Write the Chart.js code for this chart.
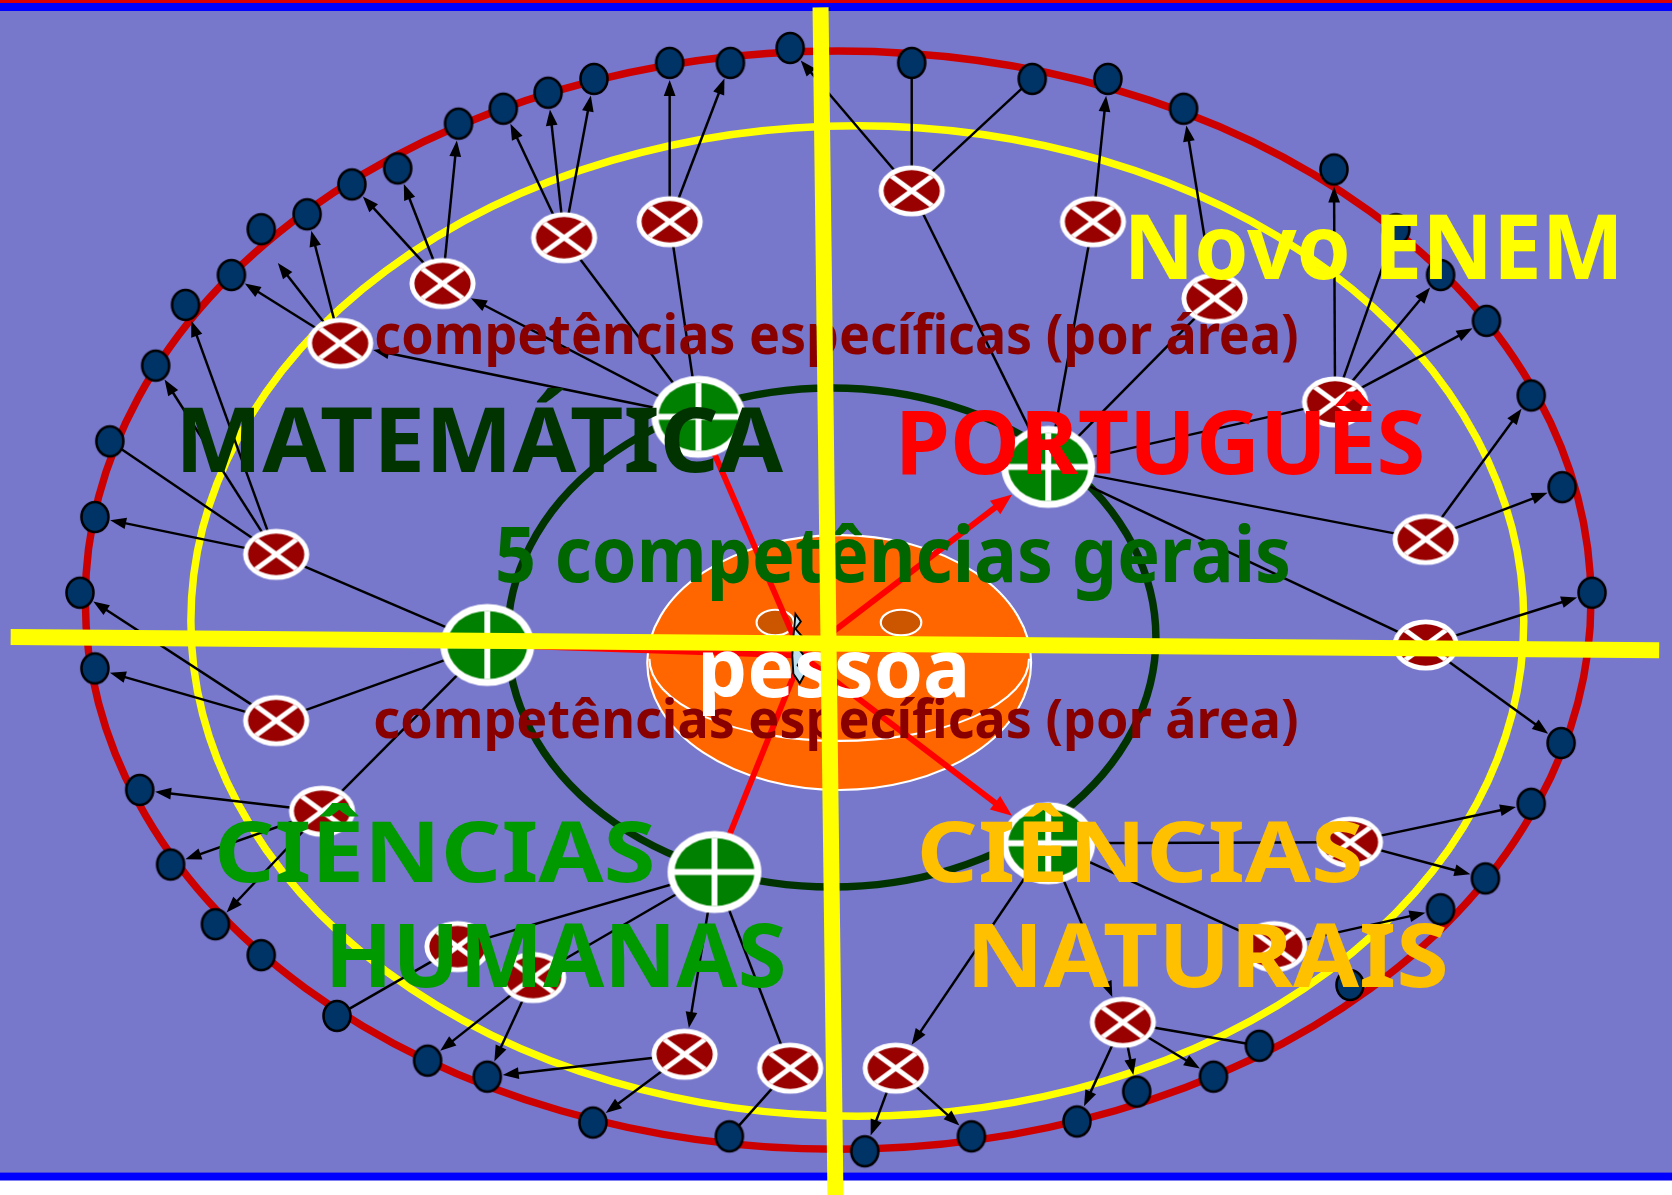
<!DOCTYPE html>
<html><head><meta charset="utf-8">
<script src="https://cdn.jsdelivr.net/npm/chart.js@4.4.1/dist/chart.umd.min.js"></script>
<style>html,body{margin:0;padding:0;background:#fff;overflow:hidden}#c{display:block}</style>
</head><body>
<canvas id="c" width="1672" height="1195"></canvas>
<script>
// ================= DATA (diagram units: 0..1568 x 0..1121) =================
// outer ring nodes (dark blue)
const blueNodeX = [741,685,628,557,514,472,430,373,330,288,245,217,174,146,103,89,75,89,131,160,202,245,316,401,457,556,684,811,911,1010,1066,1138,1181,1266,1351,1393,1436,1464,1493,1465,1436,1394,1351,1309,1251,1110,1039,968,855];
const blueNodeY = [45,59,59,74,87,102,116,158,173,201,215,258,286,343,414,485,556,627,741,811,867,896,953,995,1010,1053,1066,1080,1066,1052,1024,1010,981,924,853,824,754,697,556,457,371,301,258,215,159,102,74,74,59];
// specific-skill nodes (red, crossed)
const skillNodeX = [529,628,415,319,855,1025,1139,1252,259,259,302,1337,1337,1266,1195,1053,840,741,642,500,429];
const skillNodeY = [223,208,266,322,179,208,280,377,520,676,761,506,605,790,888,959,1002,1002,989,917,888];
// general-competence nodes (green): Matemática, Português, left, C. Humanas, C. Naturais
const areaNodeX = [655,983,457,670,983];
const areaNodeY = [391,438,605,818,791];
// centre ("pessoa")
const hubX = 752, hubY = 615;
// free arrow end
const looseEndX = [260];
const looseEndY = [246];
// links: from, to, arrow head (1) or not (0)
const linkFrom = ['g0','g0','g0','g0','x1','x1','x1','x2','x2','x3','x3','x3','x4','x4','x4',
  'g2','x9','x9','x9','x9','g2','x10','x10','g2','x11','x11','x11',
  'g3','x21','g3','x20','x20','g3','x19','x19','g3','x18',
  'g4','x14','x14','g4','x15','g4','x16','x16','x16','x16','g4','x17','x17',
  'g1','x5','x5','x5','g1','x6','g1','x7','g1','x8','x8','x8','x8','g1','x12','x12','g1','x13','x13'];
const linkTo = ['x1','x2','x3','x4','b5','b4','b6','b3','b2','b7','b8','b9','b10','l0','b12',
  'x9','b13','b14','b15','b16','x10','b17','b18','x11','b19','b20','b21',
  'x21','b23','x20','b24','b25','x19','b25','b26','x18','b27',
  'x14','b37','b36','x15','b35','x16','b33','b32','b31','b30','x17','b28','b29',
  'x5','b1','b49','b48','x6','b47','x7','b46','x8','b45','b44','b43','b42','x12','b41','b40','x13','b39','b38'];
const linkArrow = [0,0,1,1,1,1,1,1,1,1,1,1,1,1,1,
  0,1,1,0,1,0,1,1,0,1,1,1,
  0,0,0,1,1,1,1,1,0,0,
  0,1,1,0,1,1,0,1,1,1,1,1,1,
  0,1,0,0,0,1,0,1,0,1,0,1,1,0,1,1,0,1,1];
// red links centre -> area nodes
const hubArrow = [0,1,0,0,1];
// texts
const labelTexts = ['competências específicas (por área)','competências específicas (por área)','5 competências gerais',
  'MATEMÁTICA','PORTUGUÊS','pessoa','CIÊNCIAS','HUMANAS','CIÊNCIAS','NATURAIS','Novo ENEM'];

// ================= LAYOUT / STYLE =================
const W = 1568, H = 1121;
const K = 1672 / W;
const labelColors = ['#880000','#880000','#006600','#003300','#ff0000','#ffffff','#009900','#009900','#ffc000','#ffc000','#ffff00'];
// [left, right, top of reference glyph, baseline, reference glyph]
const labelBoxes = [
  [353,1216,303,332,'x'],
  [352,1216,664,692,'x'],
  [467,1208,494,546,'5'],
  [172,735,383,443,'M'],
  [846,1334,386,445,'P'],
  [659,905,612,653.5,'x'],
  [205,612,770,827,'H'],
  [312,735,867,926,'H'],
  [864,1276,770,827,'H'],
  [914,1356,867,926,'N'],
  [1061,1516,201,262,'N']
];
const rings = {
  outer: {cx:786, cy:563, rx:706, ry:515, color:'#cc0000', w:7},
  yellow:{cx:804, cy:582.5, rx:625, ry:464.5, color:'#ffff00', w:7},
  green: {cx:780, cy:598, rx:304, ry:234, color:'#003300', w:7}
};
const face = {cx:787, cy:621.5, rx:180, ry:119.5};
const nodeSize = {b:[13.6,15], x:[31,24], g:[44,38.5], l:[0.01,0.01]};

function px(v){ return v*K; }
function makeNode(kind){
  const [rx, ry] = nodeSize[kind].map(px);
  const c = document.createElement('canvas');
  c.width = Math.ceil(rx*2+6); c.height = Math.ceil(ry*2+6);
  const g = c.getContext('2d');
  const cx = c.width/2, cy = c.height/2;
  if (kind === 'b') {
    g.beginPath(); g.ellipse(cx,cy,rx-1,ry-1,0,0,Math.PI*2);
    g.fillStyle = '#003366'; g.fill();
    g.lineWidth = px(2.4); g.strokeStyle = '#000'; g.stroke();
  } else if (kind === 'x') {
    g.beginPath(); g.ellipse(cx,cy,rx,ry,0,0,Math.PI*2); g.fillStyle='#fff'; g.fill();
    const b = px(4.6), irx = rx-b, iry = ry-b;
    g.beginPath(); g.ellipse(cx,cy,irx,iry,0,0,Math.PI*2); g.fillStyle='#990000'; g.fill();
    g.save(); g.beginPath(); g.ellipse(cx,cy,irx,iry,0,0,Math.PI*2); g.clip();
    g.strokeStyle='#fff'; g.lineWidth=px(4.6);
    const a = 0.74;
    g.beginPath(); g.moveTo(cx-irx*a, cy-iry*a); g.lineTo(cx+irx*a, cy+iry*a);
    g.moveTo(cx+irx*a, cy-iry*a); g.lineTo(cx-irx*a, cy+iry*a); g.stroke();
    g.restore();
  } else {
    g.beginPath(); g.ellipse(cx,cy,rx,ry,0,0,Math.PI*2); g.fillStyle='#fff'; g.fill();
    const b = px(6.5), irx = rx-b, iry = ry-b;
    g.beginPath(); g.ellipse(cx,cy,irx,iry,0,0,Math.PI*2); g.fillStyle='#008000'; g.fill();
    g.strokeStyle='#fff'; g.lineWidth=px(5.5);
    g.beginPath(); g.moveTo(cx-irx,cy); g.lineTo(cx+irx,cy); g.moveTo(cx,cy-iry); g.lineTo(cx,cy+iry); g.stroke();
  }
  return c;
}
const imgBlue = makeNode('b'), imgSkill = makeNode('x'), imgArea = makeNode('g');

function nodeInfo(id){
  const t = id[0], n = parseInt(id.slice(1),10);
  if (t === 'b') return {x:blueNodeX[n-1], y:blueNodeY[n-1], s:nodeSize.b};
  if (t === 'x') return {x:skillNodeX[n-1], y:skillNodeY[n-1], s:nodeSize.x};
  if (t === 'g') return {x:areaNodeX[n], y:areaNodeY[n], s:nodeSize.g};
  return {x:looseEndX[n], y:looseEndY[n], s:nodeSize.l};
}

function arrowSeg(ctx, x1, y1, x2, y2, head, color, lw, hl, hw){
  const ang = Math.atan2(y2-y1, x2-x1), c = Math.cos(ang), s = Math.sin(ang);
  ctx.strokeStyle = color; ctx.lineWidth = lw; ctx.lineCap='butt';
  ctx.beginPath(); ctx.moveTo(x1,y1);
  if (head) ctx.lineTo(x2 - c*hl*0.7, y2 - s*hl*0.7); else ctx.lineTo(x2,y2);
  ctx.stroke();
  if (head) {
    ctx.fillStyle = color; ctx.beginPath();
    ctx.moveTo(x2,y2);
    ctx.lineTo(x2 - c*hl + s*hw, y2 - s*hl - c*hw);
    ctx.lineTo(x2 - c*hl - s*hw, y2 - s*hl + c*hw);
    ctx.closePath(); ctx.fill();
  }
}

const diagram = {
  id:'diagram',
  beforeDraw(chart){
    const ctx = chart.ctx, sx = chart.scales.x, sy = chart.scales.y;
    const X = v => sx.getPixelForValue(v), Y = v => sy.getPixelForValue(v);
    ctx.save();
    ctx.fillStyle = '#7777cc'; ctx.fillRect(0, 0, chart.width, chart.height);
    ctx.fillStyle = '#dd0000'; ctx.fillRect(0, Y(0), chart.width, Y(2.8)-Y(0));
    ctx.fillStyle = '#0000ff'; ctx.fillRect(0, Y(2.8), chart.width, Y(10.3)-Y(2.8));
    ctx.fillStyle = '#0000ff'; ctx.fillRect(0, Y(1100), chart.width, Y(1107.5)-Y(1100));
    ctx.fillStyle = '#ffffff'; ctx.fillRect(0, Y(1107.5), chart.width, chart.height - Y(1107.5));
    for (const k of ['outer','yellow','green']) {
      const r = rings[k];
      ctx.beginPath(); ctx.ellipse(X(r.cx), Y(r.cy), px(r.rx), px(r.ry), 0, 0, Math.PI*2);
      ctx.strokeStyle = r.color; ctx.lineWidth = px(r.w); ctx.stroke();
    }
    // face
    ctx.beginPath(); ctx.ellipse(X(face.cx), Y(face.cy), px(face.rx), px(face.ry), 0, 0, Math.PI*2);
    ctx.fillStyle = '#ff6600'; ctx.fill(); ctx.strokeStyle = '#fff'; ctx.lineWidth = px(2); ctx.stroke();
    ctx.beginPath(); ctx.ellipse(X(787), Y(618), px(178), px(77), 0, 0, Math.PI);
    ctx.stroke();
    for (const [ex, erx] of [[727,17.5],[845,19]]) {
      ctx.beginPath(); ctx.ellipse(X(ex), Y(584), px(erx), px(12), 0, 0, Math.PI*2);
      ctx.fillStyle = '#cc5500'; ctx.fill(); ctx.strokeStyle='#fff'; ctx.lineWidth = px(2); ctx.stroke();
    }
    ctx.restore();
  },
  beforeDatasetsDraw(chart){
    const ctx = chart.ctx, sx = chart.scales.x, sy = chart.scales.y;
    const X = v => sx.getPixelForValue(v), Y = v => sy.getPixelForValue(v);
    ctx.save();
    for (let i = 0; i < linkFrom.length; i++) {
      const a = nodeInfo(linkFrom[i]), b = nodeInfo(linkTo[i]);
      const x1 = X(a.x), y1 = Y(a.y), x2 = X(b.x), y2 = Y(b.y);
      let tx = x2, ty = y2;
      if (linkArrow[i]) {
        const dx = x1-x2, dy = y1-y2, rx = px(b.s[0])+1, ry = px(b.s[1])+1;
        const t = 1/Math.sqrt((dx/rx)**2 + (dy/ry)**2);
        tx = x2 + dx*t; ty = y2 + dy*t;
      }
      arrowSeg(ctx, x1, y1, tx, ty, linkArrow[i], '#000', px(2.3), px(15), px(5.5));
    }
    // red links from the centre
    for (let i = 0; i < areaNodeX.length; i++) {
      const x1 = X(hubX), y1 = Y(hubY), x2 = X(areaNodeX[i]), y2 = Y(areaNodeY[i]);
      let tx = x2, ty = y2;
      if (hubArrow[i]) {
        const dx = x1-x2, dy = y1-y2, rx = px(nodeSize.g[0])+1, ry = px(nodeSize.g[1])+1;
        const t = 1/Math.sqrt((dx/rx)**2 + (dy/ry)**2);
        tx = x2 + dx*t; ty = y2 + dy*t;
      }
      arrowSeg(ctx, x1, y1, tx, ty, hubArrow[i], '#ff0000', px(5.5), px(20), px(8));
    }
    // small nose
    ctx.beginPath();
    const nz = [[746,576],[751,583],[746,590],[753,598],[747,606],[754,615],[748,624],[755,632],[750,641],[744,632],[743,615],[744,598]];
    ctx.moveTo(X(nz[0][0]), Y(nz[0][1]));
    for (const p of nz.slice(1)) ctx.lineTo(X(p[0]), Y(p[1]));
    ctx.closePath(); ctx.fillStyle='#bfe0f0'; ctx.fill(); ctx.strokeStyle='#000'; ctx.lineWidth=px(1.8); ctx.stroke();
    ctx.restore();
  },
  afterDatasetsDraw(chart){
    const ctx = chart.ctx, sx = chart.scales.x, sy = chart.scales.y;
    const X = v => sx.getPixelForValue(v), Y = v => sy.getPixelForValue(v);
    ctx.save();
    // texts
    for (let i = 0; i < labelTexts.length; i++) {
      const [L, R, T, B, ref] = labelBoxes[i];
      ctx.font = 'bold 100px "Comic Sans MS", "Noto Sans", sans-serif';
      ctx.textBaseline = 'alphabetic'; ctx.textAlign = 'left';
      const m = ctx.measureText(labelTexts[i]);
      const w = m.actualBoundingBoxLeft + m.actualBoundingBoxRight;
      const asc = ctx.measureText(ref).actualBoundingBoxAscent;
      const fx = (X(R)-X(L))/w, fy = (Y(B)-Y(T))/asc;
      ctx.save();
      ctx.translate(X(L) + m.actualBoundingBoxLeft*fx, Y(B));
      ctx.scale(fx, fy);
      ctx.fillStyle = labelColors[i];
      ctx.fillText(labelTexts[i], 0, 0);
      ctx.restore();
    }
    // yellow cross on top
    ctx.strokeStyle = '#ffff00'; ctx.lineWidth = px(15); ctx.lineCap = 'butt';
    ctx.beginPath(); ctx.moveTo(X(769.5), Y(7)); ctx.lineTo(X(783.5), Y(H)); ctx.stroke();
    ctx.beginPath(); ctx.moveTo(X(10), Y(597.5)); ctx.lineTo(X(1556), Y(610)); ctx.stroke();
    ctx.restore();
  }
};

const pts = (xs, ys) => xs.map((x, i) => ({x, y: ys[i]}));
new Chart(document.getElementById('c'), {
  type: 'scatter',
  data: { datasets: [
    { data: pts(blueNodeX, blueNodeY), pointStyle: imgBlue, pointRadius: 10 },
    { data: pts(skillNodeX, skillNodeY), pointStyle: imgSkill, pointRadius: 10 },
    { data: pts(areaNodeX, areaNodeY), pointStyle: imgArea, pointRadius: 10 }
  ]},
  options: {
    responsive: false, animation: false, events: [],
    layout: { padding: 0, autoPadding: false },
    scales: {
      x: { type: 'linear', min: 0, max: W, display: false },
      y: { type: 'linear', min: 0, max: H, reverse: true, display: false }
    },
    plugins: { legend: { display: false }, tooltip: { enabled: false } }
  },
  plugins: [diagram]
});
</script>
</body></html>
